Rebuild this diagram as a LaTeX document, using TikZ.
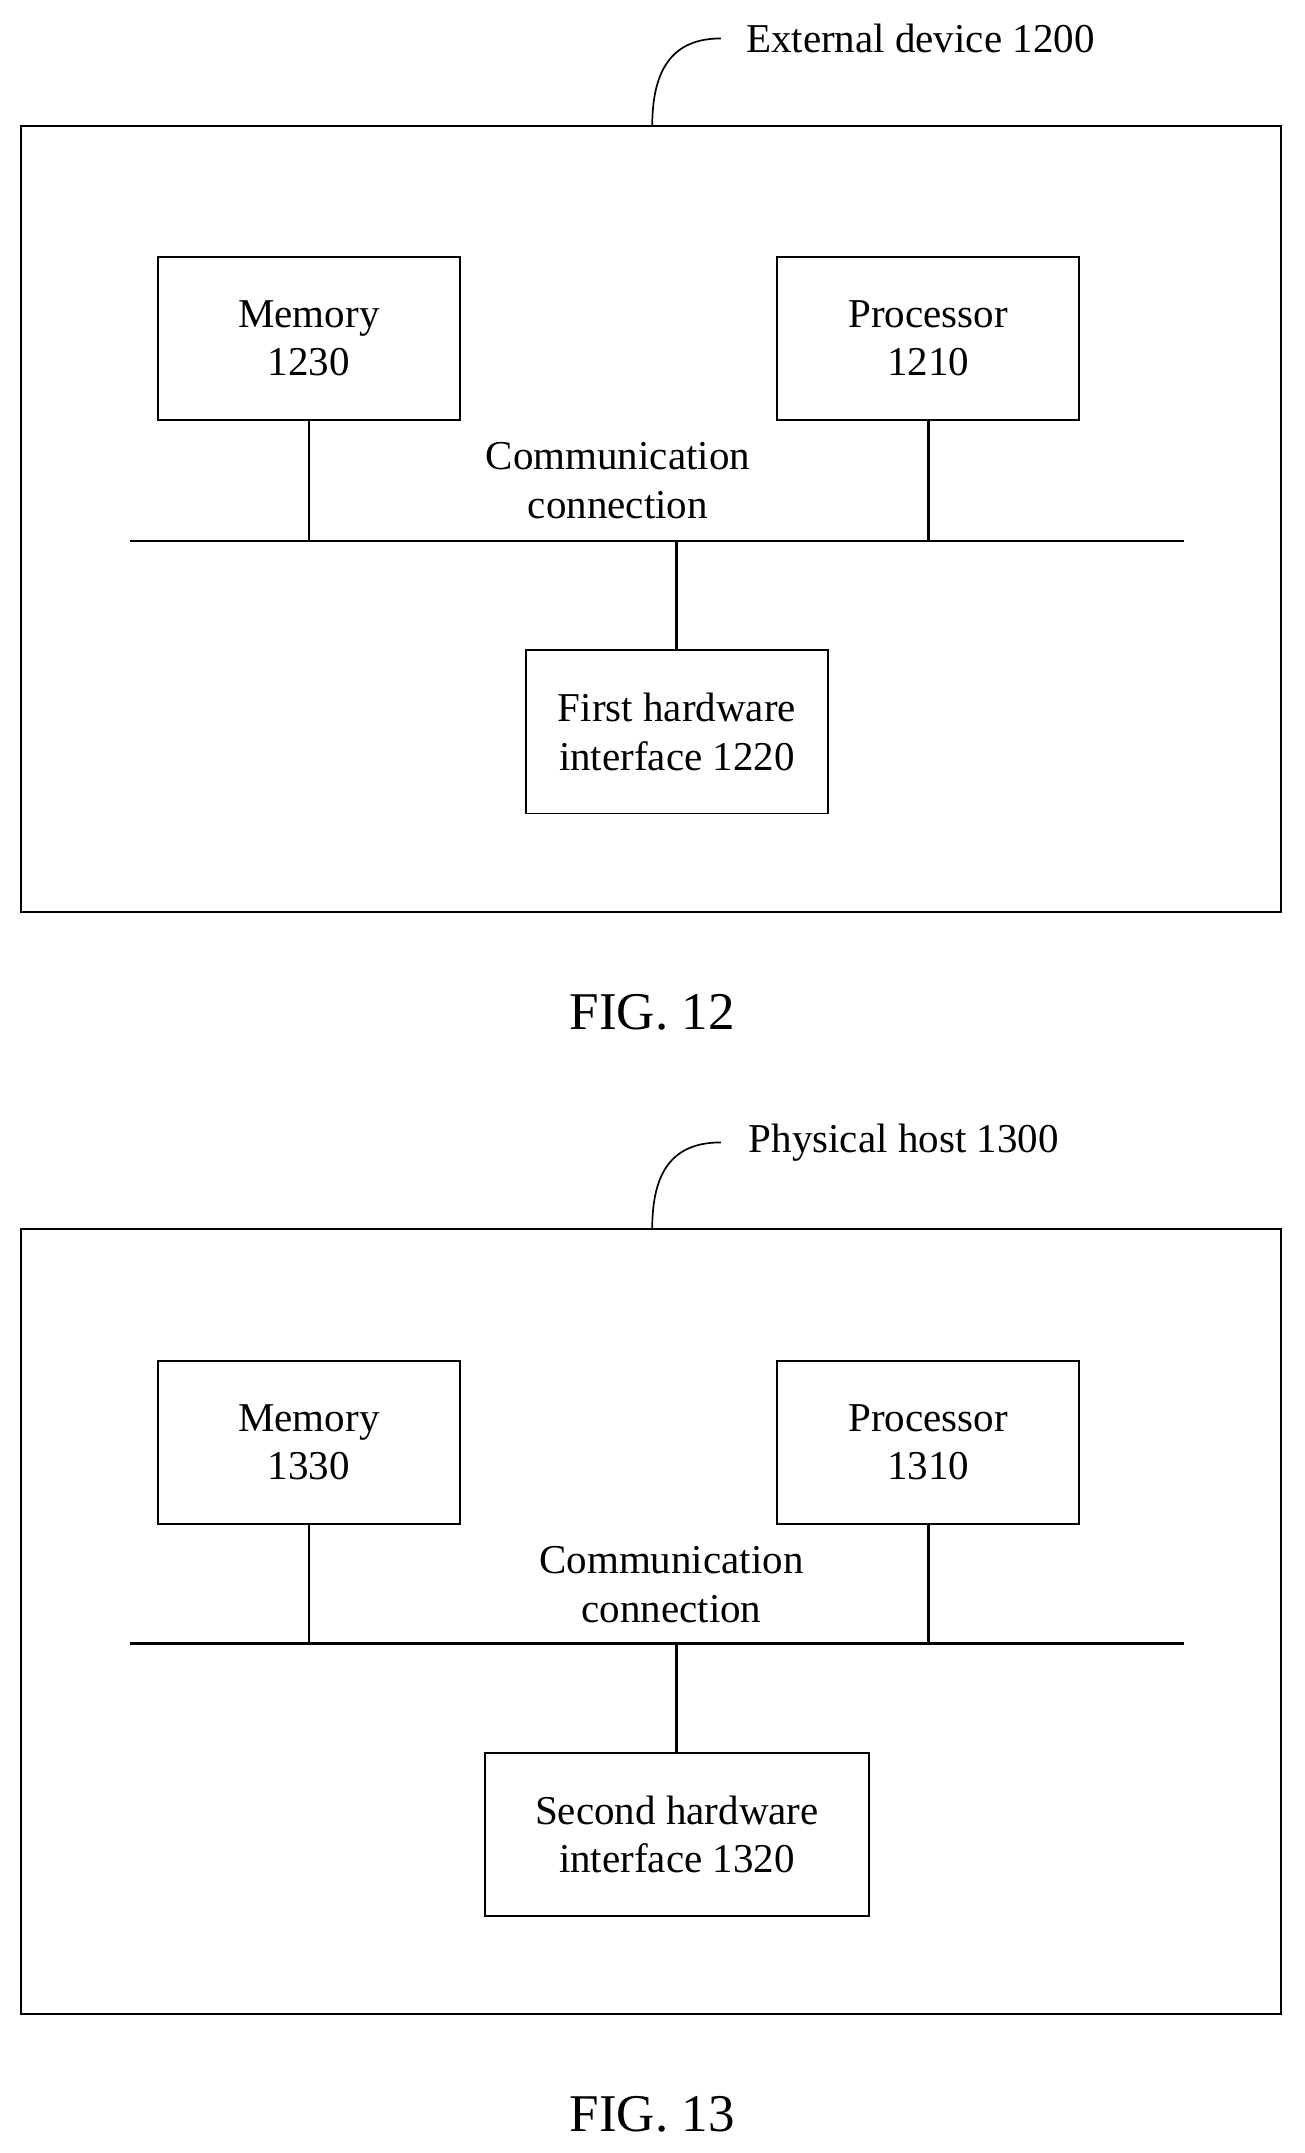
\documentclass[tikz,border=0pt]{standalone}
\usepackage{fontspec}
\setmainfont{Liberation Serif}
\begin{document}
\begin{tikzpicture}[
  x=0.02cm, y=-0.02cm,
  every node/.style = {font=\fontsize{17}{20}\selectfont, align=center, inner sep=0pt},
  unit/.style = {draw, line width=0.7pt, minimum width=4.4cm, minimum height=2.38cm},
  frame/.style = {draw, line width=0.8pt},
  bus/.style = {line width=1.2pt},
  caption/.style = {font=\fontsize{22}{26}\selectfont}
]
  \useasboundingbox (0,0) rectangle (950,1568);
  % FIG. 12
  \draw[frame] (15,92) rectangle (933,664);
  \coordinate (top12) at (475,92);
  \coordinate (tip12) at (525,28);
  \draw[line width=0.7pt] (top12) .. controls (475,50) and (490,28) .. (tip12);
  \node[anchor=west] (ext) at (543,28) {External device 1200};
  \node[unit] (mem12) at (225,246.5) {Memory\\1230};
  \node[unit] (proc12) at (676,246.5) {Processor\\1210};
  \node[unit] (hw12) at (493,533) {First hardware\\interface 1220};
  \coordinate (busl12) at (95,394);
  \coordinate (busr12) at (862,394);
  \draw[bus] (busl12) -- (busr12);
  \draw[bus] (mem12) -- (mem12 |- busl12);
  \draw[bus] (proc12) -- (proc12 |- busl12);
  \draw[bus] (hw12) -- (hw12 |- busl12);
  \node (comm12) at (450,350) {Communication\\connection};
  \node[caption] (fig12) at (475,737) {FIG. 12};
  % FIG. 13
  \draw[frame] (15,895) rectangle (933,1467);
  \coordinate (top13) at (475,895);
  \coordinate (tip13) at (525,832);
  \draw[line width=0.7pt] (top13) .. controls (475,853) and (490,832) .. (tip13);
  \node[anchor=west] (host) at (545,832) {Physical host 1300};
  \node[unit] (mem13) at (225,1050.5) {Memory\\1330};
  \node[unit] (proc13) at (676,1050.5) {Processor\\1310};
  \node[unit, minimum width=5.6cm] (hw13) at (493,1336) {Second hardware\\interface 1320};
  \coordinate (busl13) at (95,1197);
  \coordinate (busr13) at (862,1197);
  \draw[bus] (busl13) -- (busr13);
  \draw[bus] (mem13) -- (mem13 |- busl13);
  \draw[bus] (proc13) -- (proc13 |- busl13);
  \draw[bus] (hw13) -- (hw13 |- busl13);
  \node (comm13) at (489,1154) {Communication\\connection};
  \node[caption] (fig13) at (475,1540) {FIG. 13};
\end{tikzpicture}
\end{document}
